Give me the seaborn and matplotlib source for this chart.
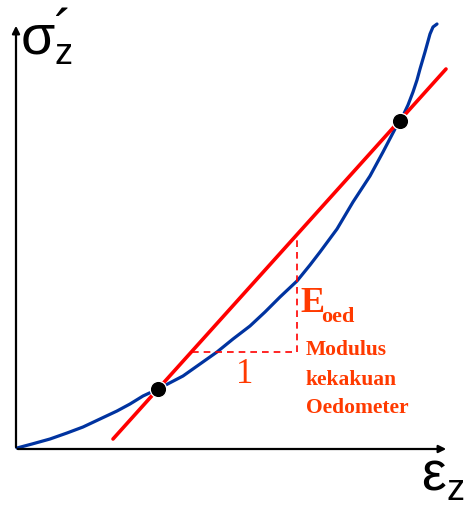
import matplotlib
matplotlib.use('Agg')
import matplotlib.pyplot as plt
import seaborn as sns
import pandas as pd

sns.set_style('white')

# stress-strain curve (pixel coords, y down)
curve_x = [17, 32, 50, 67, 83, 100, 117, 130, 143, 158, 183, 200, 217, 233, 250, 265, 280, 297,
           310, 320, 337, 353, 370, 383, 395, 401, 408, 413, 417, 420, 425, 430, 433, 437]
curve_y = [449, 445, 440, 434, 428, 420, 412, 405, 397, 390, 377, 365, 353, 340, 327, 313, 298, 282,
           266, 253, 230, 203, 177, 153, 130, 121, 106, 93, 81, 70, 53, 35, 28, 25]

# secant line (Eoed) and the two points it passes through
line_x = [113, 446]
line_y = [440, 70]
pts_x = [158, 400]
pts_y = [390, 122]

# slope triangle
tri_x = [192, 297, 297]
tri_y = [353, 353, 240]

blue = '#0033A0'
red = '#FF0000'
orange = '#FF3A00'

fig = plt.figure(figsize=(4.76, 5.06), dpi=100)
ax = fig.add_axes([0, 0, 1, 1])
ax.set_xlim(0, 476)
ax.set_ylim(506, 0)
ax.axis('off')

# axes arrows
ax.annotate('', xy=(16, 24), xytext=(16, 451),
            arrowprops=dict(arrowstyle='-|>', lw=1.6, color='black', mutation_scale=11))
ax.annotate('', xy=(449, 450), xytext=(15, 450),
            arrowprops=dict(arrowstyle='-|>', lw=1.6, color='black', mutation_scale=11))

df_curve = pd.DataFrame({'x': curve_x, 'y': curve_y})
sns.lineplot(data=df_curve, x='x', y='y', sort=False, color=blue, lw=2.3, ax=ax)
sns.lineplot(x=line_x, y=line_y, color=red, lw=2.6, ax=ax)
ax.plot(tri_x, tri_y, color=red, lw=1.2, ls=(0, (4, 3)))
sns.scatterplot(x=pts_x, y=pts_y, color='black', s=140, ax=ax, zorder=5)

# labels
serif = 'Liberation Serif'
sans = 'Liberation Sans'
ax.text(21, 53, 'σ', fontsize=40, family=sans, color='black', va='baseline')
ax.text(54, 64, 'z', fontsize=26, family=sans, color='black', va='baseline')
ax.text(54, 49, '´', fontsize=40, family=sans, color='black', va='baseline')
ax.text(421, 491, 'ε', fontsize=40, family=sans, color='black', va='baseline')
ax.text(446, 500, 'z', fontsize=26, family=sans, color='black', va='baseline')

ax.text(300, 312, 'E', fontsize=26, family=serif, weight='bold', color=orange, va='baseline')
ax.text(321, 322, 'oed', fontsize=16, family=serif, weight='bold', color=orange, va='baseline')
ax.text(306, 355, 'Modulus', fontsize=15.5, family=serif, weight='bold', color=orange, va='baseline')
ax.text(306, 385, 'kekakuan', fontsize=15.5, family=serif, weight='bold', color=orange, va='baseline')
ax.text(306, 413, 'Oedometer', fontsize=15.5, family=serif, weight='bold', color=orange, va='baseline')
ax.text(245, 383, '1', fontsize=25, family=serif, color=orange, va='baseline', ha='center')

if ax.get_legend():
    ax.get_legend().remove()

fig.savefig('out.png', dpi=100)
